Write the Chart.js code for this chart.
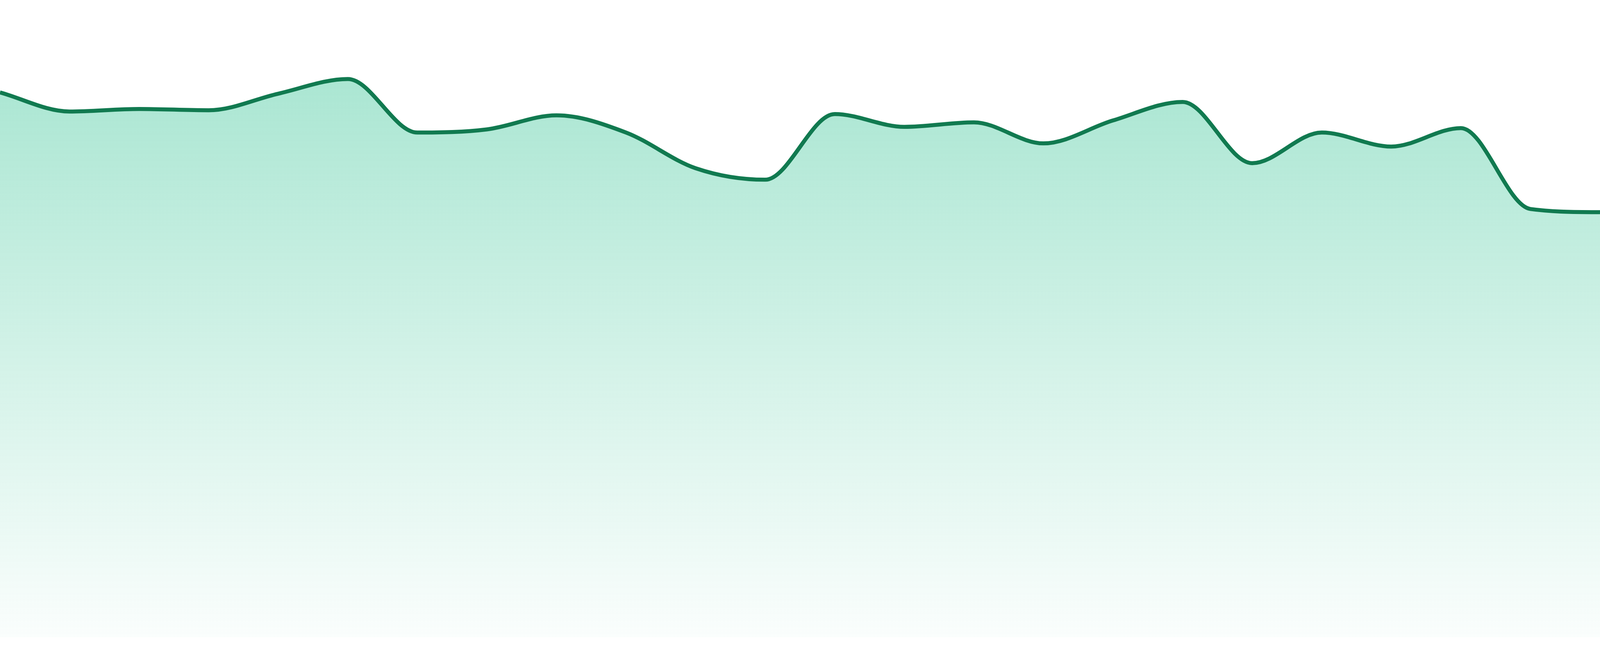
<!DOCTYPE html>
<html>
<head>
<meta charset="utf-8">
<script src="https://cdn.jsdelivr.net/npm/chart.js@4/dist/chart.umd.min.js"></script>
<style>
  html, body { margin: 0; padding: 0; background: #ffffff; overflow: hidden; }
  #wrap { position: relative; width: 100vw; height: 100vh; }
</style>
</head>
<body>
<div id="wrap"><canvas id="trendChart"></canvas></div>
<script>
'use strict';

// hourly points, left to right
const hours = [
  "00", "01", "02", "03", "04", "05", "06", "07", "08", "09", "10", "11",
  "12", "13", "14", "15", "16", "17", "18", "19", "20", "21", "22", "23"
];

const values = [
  85.5, 82.5, 82.9, 82.7, 85.3, 87.6, 79.2, 79.7, 81.9, 79.2, 73.6, 71.8,
  82.1, 80.1, 80.8, 77.5, 81.1, 84.0, 74.4, 79.2, 77.0, 79.9, 67.2, 66.7
];

const yMin = 0;
const yMax = 100;

const lineColor = "#117a50";

const ctx = document.getElementById("trendChart");

function fillGradient(context) {
  const area = context.chart.chartArea;
  if (!area) {
    return "rgba(16,185,129,0.3)";
  }
  const g = context.chart.ctx.createLinearGradient(0, area.top, 0, area.bottom);
  g.addColorStop(0, "rgba(16,185,129,0.40)");
  g.addColorStop(1, "rgba(16,185,129,0.02)");
  return g;
}

// sizes follow the canvas so the picture is the same at any pixel ratio
function lineWidth(context) {
  return context.chart.width / 400;
}

function bottomGap(context) {
  return { top: 0, left: 0, right: 0, bottom: context.chart.height * 48 / 1680 };
}

let trendChart = new Chart(ctx, {
  type: 'line',
  data: {
    labels: hours,
    datasets: [
      {
        data: values,
        borderColor: lineColor,
        borderWidth: lineWidth,
        backgroundColor: fillGradient,
        fill: 'start',
        cubicInterpolationMode: 'monotone',
        pointRadius: 0
      }]
  },
  options: {
    responsive: true,
    maintainAspectRatio: false,
    animation: false,
    layout: {
      padding: bottomGap
    },
    plugins: {
      legend: { display: false },
      tooltip: { enabled: false }
    },
    scales: {
      x: { display: false, offset: false },
      y: { display: false, min: yMin, max: yMax }
    }
  }
});
</script>
</body>
</html>
